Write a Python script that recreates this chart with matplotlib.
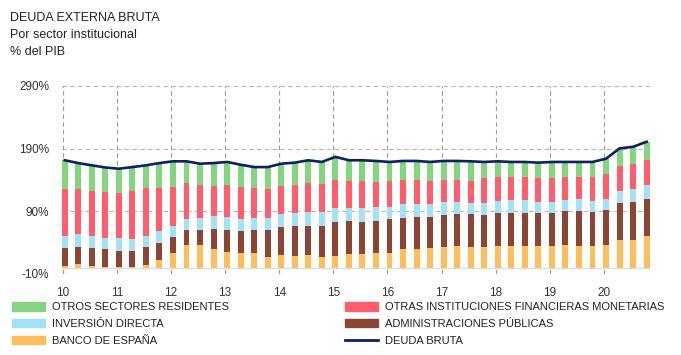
import matplotlib
matplotlib.use("Agg")
import matplotlib.pyplot as plt
import numpy as np
from matplotlib.patches import Patch
from matplotlib.lines import Line2D

plt.rcParams['font.family'] = ['Liberation Sans', 'DejaVu Sans']

years = ['10', '11', '12', '13', '14', '15', '16', '17', '18', '19', '20']

banco_espana = [2, 5.7, 2.4, 1.5, 1, 1.5, 4, 13, 23, 36.4, 36.4, 29.4, 25.6, 24, 23, 17.5,
                20, 19, 20, 17.5, 19, 21.3, 21.3, 24, 24, 29.4, 29.4, 31, 33.8, 35, 33.8, 33.8,
                35, 35, 35, 35, 35, 36.5, 34.8, 34.8, 36.5, 44.6, 44.6, 50]
admin_publicas = [29, 28.1, 28.6, 27.9, 26.3, 25.8, 28.7, 27, 25.3, 24.4, 23.3, 32.5, 35.2, 34, 37.8, 43.3,
                  44.5, 48.2, 47.2, 49.7, 53.6, 52.9, 52.4, 51.3, 53, 50.2, 51.9, 50.3, 49.7, 50, 51.2, 49.7,
                  52.8, 52.8, 52.8, 52.8, 52.8, 54, 55.7, 54, 56.1, 58.8, 61, 60.4]
inversion_directa = [20, 20.5, 20, 17.8, 19.9, 18.3, 18.3, 18, 17.9, 17.2, 19.9, 20.4, 20.5, 20, 18.8, 18.8,
                     20.5, 19.5, 21.8, 21.8, 22.2, 20.6, 21.1, 21.7, 20, 21.6, 19.9, 19.9, 21.5, 20, 19, 20.5,
                     18.8, 19.9, 19.9, 17.2, 17.2, 17.2, 18.9, 17.9, 17.8, 18.4, 20, 21.6]
otras_ifm = [74.6, 71.3, 71.9, 74, 71.8, 77.3, 75.6, 68.6, 63.1, 56.7, 53, 48.7, 51.3, 51.3, 47, 46,
             46, 45.9, 45.7, 44.6, 45.9, 44.2, 44.2, 40.4, 42, 39.5, 39.5, 36.8, 35.7, 35, 35, 38.8,
             37.9, 36.8, 36.8, 37.8, 37.8, 36.8, 36.1, 37.8, 38.4, 40.5, 40.4, 39.5]
otros_sectores = [45.9, 41.4, 40.5, 38.8, 39, 37.7, 36.8, 40.4, 40.5, 35.1, 33.4, 36, 36.2, 35.1, 34, 35,
                  35, 35.1, 36.8, 35.2, 36.2, 32.5, 32.5, 33, 29.8, 29.7, 29.7, 30.8, 29.7, 30.4, 30.8, 26,
                  25.3, 24.3, 24.3, 24.9, 26, 24.3, 23.3, 24.3, 25.2, 28.1, 27, 29.5]
deuda_bruta = [171.5, 167, 163.4, 160, 158, 160.6, 163.4, 167, 169.8, 169.8, 166, 167, 168.8, 164.4, 160.6, 160.6,
               166, 167.7, 171.5, 168.8, 176.9, 171.5, 171.5, 170.4, 168.8, 170.4, 170.4, 168.8, 170.4, 170.4, 169.8, 168.8,
               169.8, 168.8, 168.8, 167.7, 168.8, 168.8, 168.8, 168.8, 174, 190.4, 193, 201]

labels = ['BANCO DE ESPAÑA', 'ADMINISTRACIONES PÚBLICAS', 'INVERSIÓN DIRECTA',
          'OTRAS INSTITUCIONES FINANCIERAS MONETARIAS', 'OTROS SECTORES RESIDENTES']
colors = ['#FFBE5C', '#8A4535', '#A3E1F7', '#FF5E6C', '#85D47F']
line_color = '#0B2261'

series = [banco_espana, admin_publicas, inversion_directa, otras_ifm, otros_sectores]

fig = plt.figure(figsize=(6.81, 3.55), dpi=100)
ax = fig.add_axes([62 / 681, 1 - 274 / 355, (650 - 62) / 681, (274 - 86) / 355])

n = len(deuda_bruta)
x = np.arange(n)
bottom = np.zeros(n)
for vals, col in zip(series, colors):
    v = np.array(vals)
    ax.bar(x, v, width=0.44, bottom=bottom, color=col, linewidth=0, zorder=3)
    bottom += v

ax.plot(x, deuda_bruta, color=line_color, lw=1.9, zorder=4, solid_joinstyle='round')

ax.set_ylim(-10, 290)
ax.set_xlim(-0.2, 43.25)
yt = [-10, 90, 190, 290]
ax.set_yticks(yt)
ax.set_yticklabels([f'{v}%' for v in yt])
xt = [4 * i - 0.15 for i in range(len(years))]
ax.set_xticks(xt)
ax.set_xticklabels(years)

for s in ax.spines.values():
    s.set_visible(False)
ax.tick_params(length=0, labelsize=8.5, colors='#333333')
ax.tick_params(axis='y', pad=9)
ax.tick_params(axis='x', pad=9)

for v in yt:
    ax.axhline(v, color='#B5B5B5', lw=0.8, ls=(0, (4, 3)), zorder=1)
for v in xt:
    ax.axvline(v, color='#9A9A9A', lw=0.8, ls=(0, (4, 3)), zorder=1)
ax.axhline(0, color='#DDDDDD', lw=1.0, zorder=2)

fig.text(10 / 681, 1 - 18 / 355, 'DEUDA EXTERNA BRUTA', fontsize=9, va='center', ha='left', color='#222222')
fig.text(10 / 681, 1 - 35 / 355, 'Por sector institucional', fontsize=9, va='center', ha='left', color='#222222')
fig.text(10 / 681, 1 - 52 / 355, '% del PIB', fontsize=9, va='center', ha='left', color='#222222')

h1 = [Patch(color=colors[4]), Patch(color=colors[2]), Patch(color=colors[0])]
l1 = [labels[4], labels[2], labels[0]]
h2 = [Patch(color=colors[3]), Patch(color=colors[1]), Line2D([], [], color=line_color, lw=2)]
l2 = [labels[3], labels[1], 'DEUDA BRUTA']

common = dict(frameon=False, fontsize=8, handlelength=3.0, handleheight=0.8,
              handletextpad=0.6, labelspacing=0.6, borderpad=0, borderaxespad=0)
leg1 = fig.legend(h1, l1, loc='upper left', bbox_to_anchor=(12 / 681, 1 - 302 / 355), **common)
leg2 = fig.legend(h2, l2, loc='upper left', bbox_to_anchor=(345 / 681, 1 - 302 / 355), **common)
for leg in (leg1, leg2):
    for t in leg.get_texts():
        t.set_color('#222222')

fig.savefig('out.png', dpi=100)
